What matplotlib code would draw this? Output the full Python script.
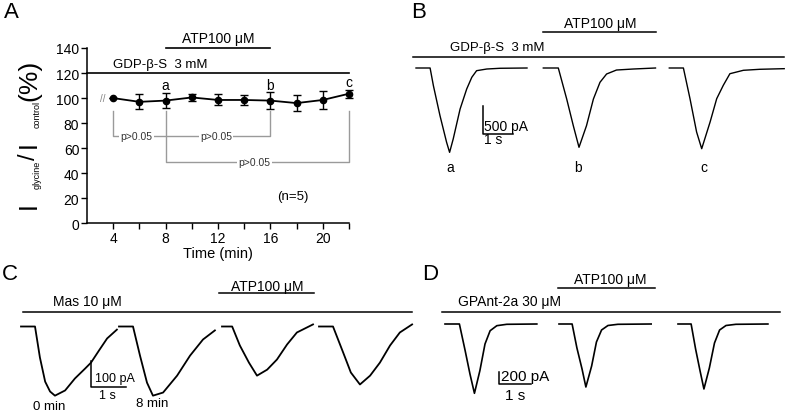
import matplotlib
matplotlib.use('Agg')
import matplotlib.pyplot as plt
from matplotlib.lines import Line2D

plt.rcParams['font.family'] = ['Liberation Sans', 'DejaVu Sans']

W, H = 787, 414

# ---- Panel A: normalised glycine current vs time ----
time_min = [4, 6, 8, 10, 12, 14, 16, 18, 20, 22]
ratio_pct = [100, 97, 98, 100.5, 98.5, 98.5, 98, 96, 98.5, 103.5]
ratio_err = [0, 6, 6.2, 2.7, 4.4, 4.1, 6.5, 6.4, 7.2, 3.2]
xtick_vals = [4, 6, 8, 10, 12, 14, 16, 18, 20, 22]
xtick_labels = ['4', '', '8', '', '12', '', '16', '', '20', '']
ytick_vals = [0, 20, 40, 60, 80, 100, 120, 140]

# ---- Panel B: GDP-beta-S traces (time s, current pA) ----
b_a_t = [0, 0.47, 0.58, 0.8, 1.02, 1.12, 1.24, 1.47, 1.69, 1.86, 2.02, 2.36, 2.8, 3.7]
b_a_i = [0, 0, -316, -852, -1327, -1506, -1268, -732, -375, -166, -48, -18, -5, 0]
b_b_t = [0, 0.5, 0.78, 1.0, 1.19, 1.44, 1.67, 1.89, 2.11, 2.44, 3.0, 3.74]
b_b_i = [0, 0, -554, -1030, -1416, -1030, -554, -255, -107, -36, -18, 0]
b_c_t = [0, 0.47, 0.69, 0.91, 1.08, 1.36, 1.58, 1.8, 2.02, 2.47, 3.02, 3.83]
b_c_i = [0, 0, -548, -1143, -1441, -964, -548, -309, -102, -41, -23, -12]
b_names = ['a', 'b', 'c']

# ---- Panel C: Mas traces ----
c1_t = [0, 0.40, 0.54, 0.69, 0.83, 0.97, 1.26, 1.54, 1.83, 2.0, 2.23, 2.46, 2.74]
c1_i = [0, 0, -119, -212, -250, -266, -246, -200, -162, -139, -92, -46, -12]
c2_t = [0, 0.40, 0.60, 0.80, 0.97, 1.26, 1.66, 2.03, 2.40, 2.74]
c2_i = [0, 0, -112, -216, -266, -254, -189, -112, -50, -15]
c3_t = [0, 0.29, 0.51, 0.77, 1.0, 1.29, 1.57, 1.86, 2.14, 2.6]
c3_i = [0, 0, -73, -139, -189, -166, -127, -69, -23, 8]
c4_t = [0, 0.40, 0.69, 0.91, 1.17, 1.46, 1.74, 2.03, 2.31, 2.66]
c4_i = [0, 0, -100, -177, -223, -189, -139, -73, -23, 8]
c_names = ['0 min', '8 min']

# ---- Panel D: GPAnt-2a traces ----
d1_t = [0, 0.45, 0.63, 0.78, 0.92, 1.09, 1.25, 1.41, 1.62, 1.93, 2.87]
d1_i = [0, 0, -445, -833, -1155, -778, -333, -112, -28, -5, 0]
d2_t = [0, 0.41, 0.56, 0.72, 0.84, 1.02, 1.17, 1.33, 1.53, 1.84, 2.88]
d2_i = [0, 0, -400, -750, -1050, -700, -300, -100, -25, -5, 0]
d3_t = [0, 0.41, 0.55, 0.69, 0.81, 0.98, 1.14, 1.3, 1.5, 1.81, 2.81]
d3_i = [0, 0, -417, -783, -1083, -733, -317, -100, -25, -5, 0]

fig = plt.figure(figsize=(W / 100, H / 100), dpi=100)


def fx(px):
    return px / W


def fy(py):
    return 1 - py / H


def hline(x0, x1, y, lw=1.1, color='black'):
    fig.add_artist(Line2D([fx(x0), fx(x1)], [fy(y), fy(y)], color=color, lw=lw))


def label(x, y, s, size=10, ha='center', va='center', **kw):
    fig.text(fx(x), fy(y), s, fontsize=size, ha=ha, va=va, **kw)


def trace_axes(x0, x1, y0, y1, base_py, px_per_s, pa_per_px):
    ax = fig.add_axes([fx(x0), fy(y1), fx(x1) - fx(x0), fy(y0) - fy(y1)])
    ax.set_xlim(0, (x1 - x0) / px_per_s)
    ax.set_ylim(-(y1 - base_py) * pa_per_px, (base_py - y0) * pa_per_px)
    ax.axis('off')
    ax.px = (x0, base_py, px_per_s, pa_per_px)
    return ax


def to_data(ax, px, py):
    x0, base, pps, ppp = ax.px
    return (px - x0) / pps, -(py - base) * ppp


def draw_traces(ax, starts_px, traces, lw=1.0):
    for sp, (t, i) in zip(starts_px, traces):
        s0, _ = to_data(ax, sp, 0)
        ax.plot([s0 + v for v in t], i, color='black', lw=lw)


def scale_bar(ax, px, py, amp_pa, dur_s):
    sx, sy = to_data(ax, px, py)
    ax.plot([sx, sx, sx + dur_s], [sy + amp_pa, sy, sy], color='black', lw=1.1)


# ================= Panel A =================
axA = fig.add_axes([fx(87), fy(224.3), fx(349) - fx(87), fy(49) - fy(224.3)])
eb = axA.errorbar(time_min, ratio_pct, yerr=ratio_err, fmt='-o', color='black',
                  ms=4.5, lw=1.3, capsize=3, elinewidth=1, capthick=1)
for art in eb.get_children():
    art.set_clip_on(False)
axA.set_xlim(2, 22)
axA.set_ylim(0, 140)
axA.set_xticks(xtick_vals)
axA.set_xticklabels(xtick_labels)
axA.set_yticks(ytick_vals)
for s in ['top', 'right']:
    axA.spines[s].set_visible(False)
for s in ['left', 'bottom']:
    axA.spines[s].set_linewidth(1.1)
axA.tick_params(direction='out', length=4, width=1, labelsize=10, pad=1.5)
axA.set_xlabel('Time (min)', fontsize=10.5, labelpad=1)

# drug bars
axA.plot([8, 16], [140, 140], color='black', lw=1.2, clip_on=False)
axA.text(12, 142.5, 'ATP100 \u03bcM', ha='center', va='bottom', fontsize=10)
axA.plot([2, 22], [120, 120], color='black', lw=1.2, clip_on=False)
axA.text(7.6, 122.5, 'GDP-\u03b2-S  3 mM', ha='center', va='bottom', fontsize=9.5)

# point labels
axA.text(8, 105, 'a', ha='center', va='bottom', fontsize=10)
axA.text(16, 105, 'b', ha='center', va='bottom', fontsize=10)
axA.text(22, 107.5, 'c', ha='center', va='bottom', fontsize=10)
axA.text(3.2, 100, '//', ha='center', va='center', fontsize=7, color='gray')
axA.text(17.7, 22, '(n=5)', ha='center', va='center', fontsize=9.5)

# statistics brackets
gray = '#9a9a9a'
axA.plot([4, 4, 16, 16], [90, 70, 70, 90], color=gray, lw=1, clip_on=False)
axA.plot([8, 8, 22, 22], [90, 49, 49, 90], color=gray, lw=1, clip_on=False)
box = dict(fc='white', ec='none', pad=1)
axA.text(5.8, 70, 'p>0.05', ha='center', va='center', fontsize=7.5, color='#333333', bbox=box)
axA.text(11.85, 70, 'p>0.05', ha='center', va='center', fontsize=7.5, color='#333333', bbox=box)
axA.text(14.8, 49, 'p>0.05', ha='center', va='center', fontsize=7.5, color='#333333', bbox=box)

# y label built from pieces (big I, tiny subscripts)
label(29, 209, 'I', size=18, va='bottom', rotation=90)
label(37, 189, 'glycine', size=6.5, va='bottom', rotation=90)
label(29, 160, '/', size=17, va='bottom', rotation=90)
label(29, 148, 'I', size=18, va='bottom', rotation=90)
label(37, 128, 'control', size=6.5, va='bottom', rotation=90)
label(29, 101, '(%)', size=19, va='bottom', rotation=90)

label(11, 12, 'A', size=16)

# ================= Panel B =================
label(419, 12, 'B', size=16)
hline(543, 656, 33)
label(600, 24, 'ATP100 \u03bcM')
hline(413, 784, 58)
label(497, 48, 'GDP-\u03b2-S  3 mM', size=9.5)

axB = trace_axes(405, 787, 55, 175, 69, 30, 500 / 28)
draw_traces(axB, [416, 543.3, 669.3], [(b_a_t, b_a_i), (b_b_t, b_b_i), (b_c_t, b_c_i)])
scale_bar(axB, 482.7, 135, 500, 1)
label(484.5, 133.5, '500 pA', ha='left', va='bottom')
label(493, 140, '1 s', va='center')
for name, x in zip(b_names, [450, 578, 704]):
    label(x, 168, name)

# ================= Panel C =================
label(10, 275, 'C', size=16)
hline(219, 314, 294)
label(267, 287, 'ATP100 \u03bcM')
hline(23, 412, 313)
label(87, 302, 'Mas 10 \u03bcM')

axC = trace_axes(15, 420, 315, 410, 327.5, 35, 100 / 26)
draw_traces(axC, [21, 119, 222, 319],
            [(c1_t, c1_i), (c2_t, c2_i), (c3_t, c3_i), (c4_t, c4_i)], lw=1.3)
scale_bar(axC, 91, 388, 100, 1)
label(95, 385, '100 pA', size=9, ha='left', va='bottom')
label(107, 396, '1 s', size=9)
for name, x, y in zip(c_names, [49, 152], [407, 404]):
    label(x, y, name, size=9.5)

# ================= Panel D =================
label(430, 275, 'D', size=16)
hline(558, 655, 289)
label(610, 280, 'ATP100 \u03bcM')
hline(442, 780, 313)
label(510, 302, 'GPAnt-2a 30 \u03bcM')

axD = trace_axes(440, 787, 315, 400, 325, 32, 200 / 12)
draw_traces(axD, [445, 559, 678], [(d1_t, d1_i), (d2_t, d2_i), (d3_t, d3_i)], lw=1.2)
scale_bar(axD, 499, 385, 200, 1)
label(501, 384, '200 pA', size=11, ha='left', va='bottom')
label(515, 396, '1 s', size=11)

fig.savefig('out.png', dpi=100)
